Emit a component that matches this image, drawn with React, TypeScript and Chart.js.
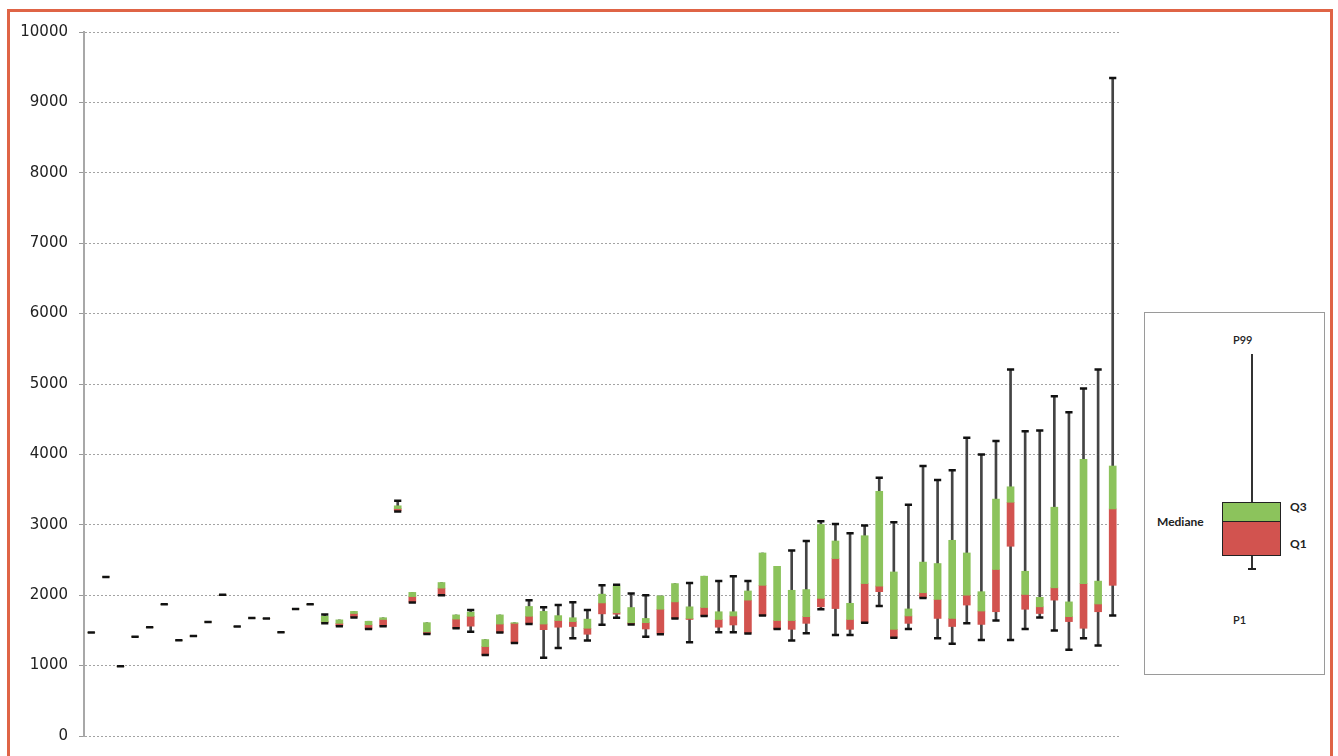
import React, { useEffect, useRef } from "react";
import { Chart, registerables } from "chart.js";

Chart.register(...registerables);

const categories = [
  "1", "2", "3", "4", "5", "6", "7", "8", "9", "10",
  "11", "12", "13", "14", "15", "16", "17", "18", "19", "20",
  "21", "22", "23", "24", "25", "26", "27", "28", "29", "30",
  "31", "32", "33", "34", "35", "36", "37", "38", "39", "40",
  "41", "42", "43", "44", "45", "46", "47", "48", "49", "50",
  "51", "52", "53", "54", "55", "56", "57", "58", "59", "60",
  "61", "62", "63", "64", "65", "66", "67", "68", "69", "70", "71",
];

const p1 = [
  1470, 2260, 990, 1410, 1545, 1870, 1360, 1420, 1620, 2005, 1555, 1675, 1670, 1475, 1805, 1870,
  1600, 1560, 1685, 1520, 1560, 3190, 1895, 1450, 2000, 1530, 1480, 1150, 1470, 1320,
  1590, 1110, 1250, 1390, 1355, 1580, 1680, 1585, 1410, 1445, 1670, 1330, 1705, 1475, 1475, 1455, 1710, 1520, 1355, 1460,
  1800, 1435, 1435, 1610, 1845, 1395, 1520, 1960, 1390, 1310, 1600, 1365, 1640, 1365, 1520, 1685, 1500, 1225, 1390, 1285, 1710,
];

const q1 = [
  1470, 2260, 990, 1410, 1545, 1870, 1360, 1420, 1620, 2005, 1555, 1675, 1670, 1475, 1805, 1870,
  1615, 1565, 1690, 1520, 1560, 3200, 1900, 1450, 2000, 1530, 1560, 1150, 1470, 1320,
  1600, 1510, 1545, 1555, 1445, 1735, 1730, 1590, 1520, 1460, 1670, 1655, 1705, 1545, 1577, 1460, 1710, 1520, 1515, 1600,
  1835, 1810, 1515, 1610, 2050, 1400, 1600, 1965, 1670, 1555, 1860, 1585, 1765, 2695, 1800, 1740, 1930, 1625, 1530, 1765, 2140,
];

const median = [
  1470, 2260, 990, 1410, 1545, 1870, 1360, 1420, 1620, 2005, 1555, 1675, 1670, 1475, 1805, 1870,
  1625, 1600, 1740, 1580, 1655, 3230, 1980, 1480, 2100, 1660, 1700, 1270, 1590, 1600,
  1700, 1590, 1640, 1625, 1530, 1890, 1750, 1610, 1610, 1800, 1905, 1670, 1825, 1655, 1705, 1930, 2140, 1640, 1640, 1695,
  1955, 2520, 1655, 2165, 2130, 1515, 1705, 2035, 1940, 1670, 2000, 1775, 2365, 3320, 2010, 1835, 2105, 1695, 2165, 1875, 3225,
];

const q3 = [
  1470, 2260, 990, 1410, 1545, 1870, 1360, 1420, 1620, 2005, 1555, 1675, 1670, 1475, 1805, 1870,
  1700, 1650, 1770, 1630, 1680, 3270, 2040, 1610, 2180, 1720, 1760, 1370, 1720, 1610,
  1840, 1770, 1710, 1680, 1660, 2015, 2130, 1825, 1670, 1990, 2165, 1835, 2270, 1765, 1765, 2060, 2600, 2410, 2070, 2080,
  3005, 2770, 1885, 2845, 3475, 2330, 1805, 2470, 2450, 2780, 2600, 2050, 3365, 3540, 2340, 1970, 3250, 1905, 3930, 2200, 3835,
];

const p99 = [
  1470, 2260, 990, 1410, 1545, 1870, 1360, 1420, 1620, 2005, 1555, 1675, 1670, 1475, 1805, 1870,
  1725, 1650, 1770, 1630, 1680, 3340, 2040, 1610, 2180, 1720, 1790, 1370, 1720, 1610,
  1930, 1830, 1860, 1900, 1790, 2140, 2150, 2025, 2000, 1990, 2165, 2175, 2270, 2200, 2270, 2200, 2600, 2410, 2635, 2770,
  3050, 3010, 2880, 2990, 3670, 3035, 3285, 3835, 3635, 3775, 4235, 4000, 4190, 5205, 4330, 4340, 4825, 4600, 4935, 5205, 9345,
];

const Y_MIN = 0;
const Y_MAX = 10000;
const Y_STEP = 1000;

const GREEN = "#8cc35c";
const RED = "#d2534f";

export default function App() {
  const canvasRef = useRef<HTMLCanvasElement | null>(null);

  useEffect(() => {
    if (!canvasRef.current) return;
    const chart = new Chart(canvasRef.current, {
      type: "bar",
      data: {
        labels: categories,
        datasets: [
          {
            type: "line",
            label: "P99",
            data: p99,
            showLine: false,
            pointStyle: "line",
            pointRadius: (ctx: any) => (p99[ctx.dataIndex] > q3[ctx.dataIndex] ? 3.6 : 0),
            pointBorderWidth: 2.5,
            borderColor: "#111",
            backgroundColor: "#111",
            order: 0,
          } as any,
          {
            type: "line",
            label: "P1",
            data: p1,
            showLine: false,
            pointStyle: "line",
            pointRadius: 3.6,
            pointBorderWidth: 2.5,
            borderColor: "#111",
            backgroundColor: "#111",
            order: 0,
          } as any,
          {
            label: "Q3",
            data: median.map((m, i) => [m, q3[i]]),
            backgroundColor: GREEN,
            barThickness: 7,
            grouped: false,
            order: 1,
          } as any,
          {
            label: "Q1",
            data: q1.map((q, i) => [q, median[i]]),
            backgroundColor: RED,
            barThickness: 7,
            grouped: false,
            order: 2,
          } as any,
          {
            label: "whisker",
            data: p1.map((p, i) => [p, p99[i]]),
            backgroundColor: "#444",
            barThickness: 2,
            grouped: false,
            order: 4,
          } as any,
        ],
      },
      options: {
        responsive: false,
        animation: false,
        devicePixelRatio: 1,
        layout: { padding: { left: 0, right: 218, top: 32, bottom: 16 } },
        plugins: {
          legend: { display: false },
          tooltip: { enabled: false },
        },
        scales: {
          x: {
            type: "category",
            display: false,
            offset: true,
          },
          y: {
            min: Y_MIN,
            max: Y_MAX,
            afterFit: (scale: any) => {
              scale.width = 84;
            },
            ticks: {
              stepSize: Y_STEP,
              color: "#222",
              padding: 11,
              font: { family: "'DejaVu Sans', sans-serif", size: 15 },
              callback: (v: any) => String(v),
            },
            grid: {
              color: "#a3a3a3",
              lineWidth: 1,
              tickLength: 5,
              tickColor: "#999",
            },
            border: {
              display: true,
              color: "#a8a8a8",
              width: 2,
              dash: [2, 2],
            },
          },
        },
      } as any,
    });
    return () => chart.destroy();
  }, []);

  const text = (s: string, left: number, top: number, extra: any = {}) => (
    <span
      style={{
        position: "absolute",
        left,
        top,
        transform: "translateY(-50%)",
        lineHeight: 1,
        fontFamily: "Lato, 'Open Sans', sans-serif",
        fontWeight: 700,
        fontSize: 12,
        color: "#222",
        whiteSpace: "nowrap",
        ...extra,
      }}
    >
      {s}
    </span>
  );

  return (
    <div
      style={{
        position: "fixed",
        left: 0,
        top: 0,
        width: 1338,
        height: 756,
        background: "#fff",
        overflow: "hidden",
      }}
    >
      <canvas
        ref={canvasRef}
        width={1338}
        height={756}
        style={{ position: "absolute", left: 0, top: 0, width: 1338, height: 756 }}
      />
      <div
        style={{
          position: "absolute",
          left: 7,
          top: 9,
          width: 1326,
          height: 820,
          border: "3px solid #df6446",
          boxSizing: "border-box",
          pointerEvents: "none",
        }}
      />
      <div
        style={{
          position: "absolute",
          left: 1144,
          top: 312,
          width: 181,
          height: 363,
          border: "1.5px solid #9a9a9a",
          boxSizing: "border-box",
          background: "#fff",
        }}
      >
        {text("P99", 88, 26, { fontWeight: 600, fontSize: 11 })}
        <div
          style={{ position: "absolute", left: 106, top: 41, width: 1.5, height: 215, background: "#333" }}
        />
        <div
          style={{ position: "absolute", left: 103, top: 255, width: 8, height: 1.5, background: "#222" }}
        />
        <div
          style={{
            position: "absolute",
            left: 77,
            top: 189,
            width: 59,
            height: 54,
            border: "1.5px solid #222",
            boxSizing: "border-box",
            background: RED,
          }}
        >
          <div style={{ height: 18, background: GREEN, borderBottom: "1.5px solid #222" }} />
        </div>
        {text("Q3", 145, 194)}
        {text("Q1", 145, 231)}
        {text("Mediane", 12, 209)}
        {text("P1", 88, 306, { fontWeight: 600, fontSize: 11 })}
      </div>
    </div>
  );
}
